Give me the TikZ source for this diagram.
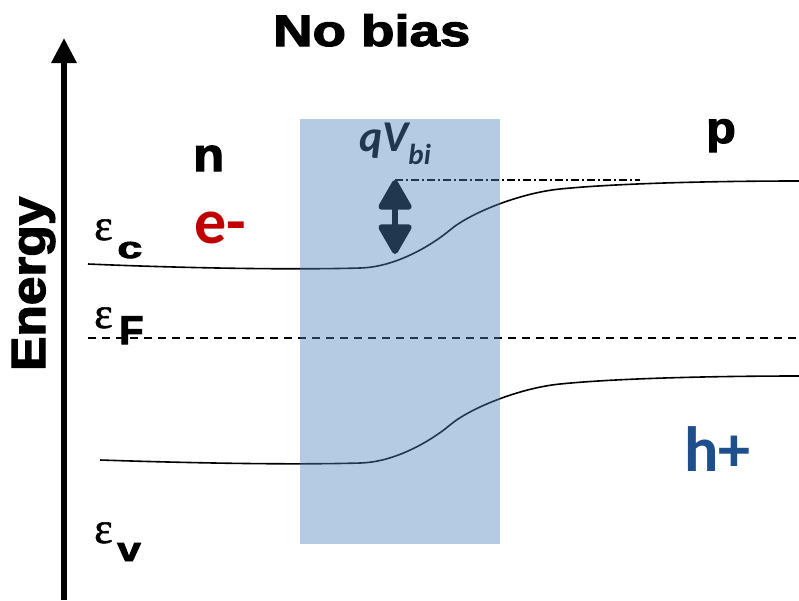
\documentclass[tikz,border=0pt]{standalone}
\usepackage{fontspec}
\setmainfont{Liberation Sans}
\newfontfamily\heavysans{Liberation Sans Bold}[FakeBold=2.5]
\newfontfamily\epsfont{Liberation Serif}[FakeBold=1.2]
\newfontfamily\carlito{Carlito}
\usetikzlibrary{arrows.meta}
\definecolor{junctionblue}{RGB}{79,129,189}
\definecolor{electronred}{RGB}{192,0,0}
\definecolor{holeblue}{RGB}{31,78,140}

\begin{document}
\begin{tikzpicture}[x=1pt,y=-1pt,
    band/.style={line width=1.6pt},
    epslabel/.style={anchor=base west,inner sep=0pt,font=\fontsize{44}{44}\epsfont},
    sublabel/.style={anchor=base west,inner sep=0pt},
    bigtext/.style={anchor=base west,inner sep=0pt,font=\fontsize{64}{64}\carlito\bfseries}]
    \useasboundingbox (0,0) rectangle (799,600);

    % Draw energy axis
    \coordinate (ebot) at (64,600);
    \coordinate (etop) at (64,38);
    \draw[line width=6pt,-{Triangle[length=25pt,width=24pt]}] (ebot) -- (etop);
    \node[rotate=90,anchor=base west,inner sep=0pt,font=\fontsize{48}{48}\heavysans] (energy) at (45,371) {\scalebox{1.07}[1]{Energy}};

    % Title and sides
    \node[anchor=base west,inner sep=0pt,xscale=1.24,font=\fontsize{44}{44}\heavysans] (title) at (273,46) {No bias};
    \node[anchor=base west,inner sep=0pt,xscale=1.08,font=\fontsize{47}{47}\heavysans] (nside) at (193,171) {n};
    \node[anchor=base west,inner sep=0pt,xscale=1.1,font=\fontsize{44}{44}\heavysans] (pside) at (706,143) {p};

    % Carriers
    \node[bigtext,text=electronred] (elec) at (194,243) {e-};
    \node[bigtext,text=holeblue] (hole) at (684,471) {h+};

    % Band labels
    \node[epslabel] (epsc) at (94,240) {ε};
    \node[sublabel,xscale=1.5,font=\fontsize{30}{30}\heavysans] (subc) at (117,258) {c};
    \node[epslabel] (epsf) at (94,328) {ε};
    \node[sublabel,font=\fontsize{40}{40}\heavysans] (subf) at (119,344) {F};
    \node[epslabel] (epsv) at (94,543) {ε};
    \node[sublabel,xscale=1.25,font=\fontsize{34}{34}\heavysans] (subv) at (117,561) {v};

    % Conduction and valence bands
    \draw[band] (88,264) .. controls (180,268) and (290,270) .. (360,268)
        .. controls (400,267) and (438,240.2) .. (450,230)
        .. controls (470,213) and (520,193) .. (560,189)
        .. controls (620,183) and (720,181) .. (799,181);
    \draw[band] (100,460) .. controls (190,463) and (290,465) .. (360,463)
        .. controls (400,462) and (438,435.2) .. (450,425)
        .. controls (470,408) and (520,388) .. (560,384)
        .. controls (620,378) and (720,376) .. (799,376);

    % Fermi level
    \draw[line width=1.5pt,dash pattern=on 8pt off 6pt] (88,338) -- (799,338);

    % Built-in potential
    \coordinate (vtop) at (395,180);
    \coordinate (vbot) at (395,254);
    \coordinate (cbend) at (640,180);
    \draw[line width=1.5pt,dash pattern=on 8pt off 3pt on 2pt off 3pt] (vtop) -- (cbend);
    \draw[line width=6pt,{Triangle[length=33pt,width=36pt,round]}-{Triangle[length=33pt,width=36pt,round]}] (vtop) -- (vbot);
    \node[anchor=base west,inner sep=0pt,font=\fontsize{44}{44}\carlito\bfseries\itshape] (qvbi) at (359,151) {qV\raisebox{-13pt}{\fontsize{29}{29}\selectfont bi}};

    % Depletion region
    \fill[junctionblue,opacity=0.42] (300,119) rectangle (500,544);
\end{tikzpicture}
\end{document}
